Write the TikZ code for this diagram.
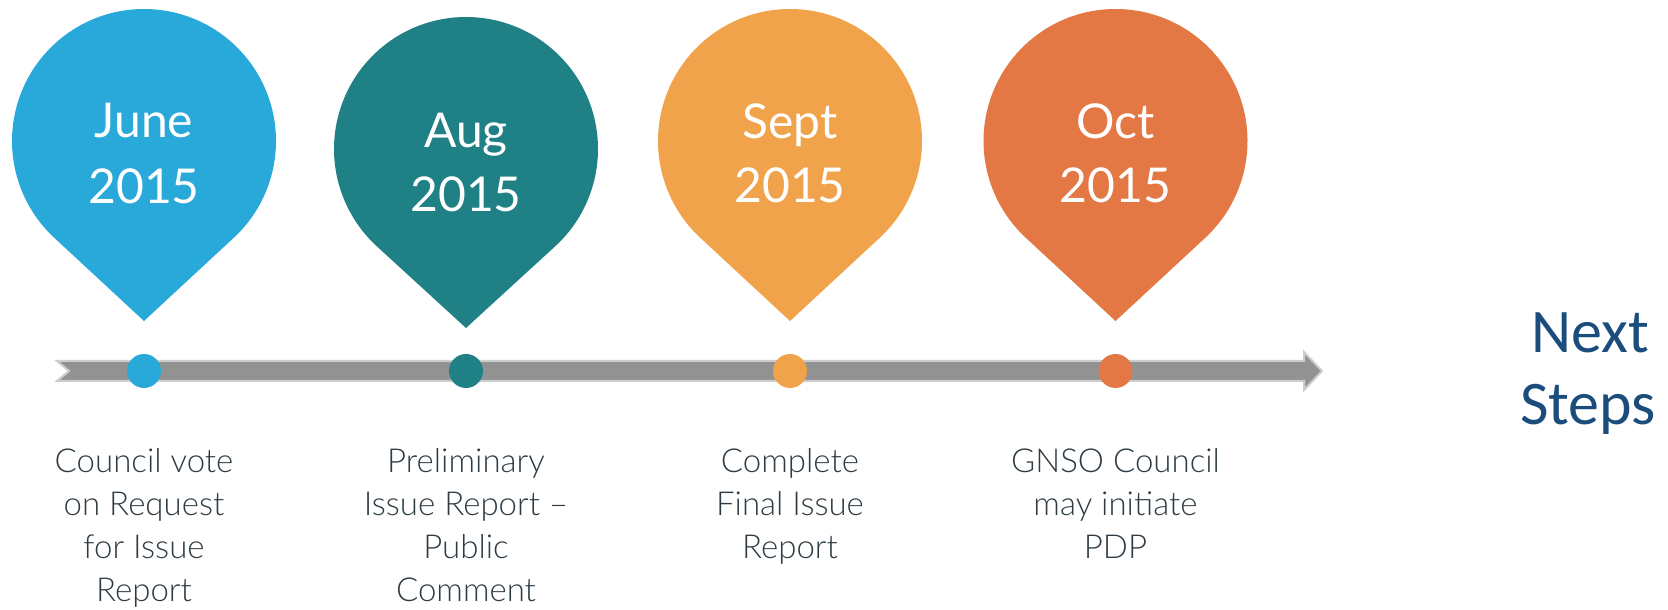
\documentclass[tikz,border=0pt]{standalone}
\usepackage{fontspec}
\setmainfont{Lato}
\newfontfamily\lightfont{Lato Light}
\newfontfamily\calfont{Carlito}
\usetikzlibrary{calc}
\definecolor{cjune}{HTML}{29A9DA}
\definecolor{caug}{HTML}{1F8085}
\definecolor{csept}{HTML}{F1A34B}
\definecolor{coct}{HTML}{E47845}
\definecolor{barfill}{HTML}{929292}
\definecolor{baredge}{HTML}{CDCDCD}
\definecolor{labelc}{HTML}{2E3B43}
\definecolor{nextc}{HTML}{1B4D7C}
\newcommand{\drawpin}[4]{% x, center y, tip y, color
  \fill[#4] (#1,#3) -- ($(#1,#2)+(-47.2:132)$) arc[start angle=-47.2, end angle=227.2, radius=132pt] -- cycle;}
\begin{document}
\begin{tikzpicture}[x=1pt,y=1pt,
  pintext/.style={text=white, font=\fontsize{48}{48}\selectfont, anchor=base, inner sep=0pt},
  lbl/.style={text=labelc, font=\lightfont\fontsize{33}{33}\selectfont, anchor=base, inner sep=0pt},
  dot/.style={circle, minimum size=34pt, inner sep=0pt},
  nextstyle/.style={text=nextc, font=\calfont\fontsize{62}{62}\selectfont, anchor=base, inner sep=0pt}]
\useasboundingbox (0,0) rectangle (1668,610);
% pins
\drawpin{144}{469}{289}{cjune}
\drawpin{466}{461}{282}{caug}
\drawpin{790}{469}{289}{csept}
\drawpin{1115.5}{469}{289}{coct}
% pin texts
\node[pintext] (june1) at (144,472) {June};
\node[pintext] (june2) at (144,406) {2015};
\node[pintext] (aug1) at (466,462) {Aug};
\node[pintext] (aug2) at (466,398) {2015};
\node[pintext] (sept1) at (790,471) {Sept};
\node[pintext] (sept2) at (790,407) {2015};
\node[pintext] (oct1) at (1115.5,471) {Oct};
\node[pintext] (oct2) at (1115.5,407) {2015};
% timeline bar
\fill[barfill, draw=baredge, line width=2pt] (57,249) -- (1304,249) -- (1304,258) -- (1322,239) -- (1304,220) -- (1304,229) -- (57,229) -- (69,239) -- cycle;
% dots
\node[dot, fill=cjune] (d1) at (144,239) {};
\node[dot, fill=caug] (d2) at (466,239) {};
\node[dot, fill=csept] (d3) at (790,239) {};
\node[dot, fill=coct] (d4) at (1115.5,239) {};
% labels
\node[lbl] (a1) at (144,137) {Council vote};
\node[lbl] (a2) at (144,94) {on Request};
\node[lbl] (a3) at (144,51) {for Issue};
\node[lbl] (a4) at (144,8) {Report};
\node[lbl] (b1) at (466,137) {Preliminary};
\node[lbl] (b2) at (466,94) {Issue Report –};
\node[lbl] (b3) at (466,51) {Public};
\node[lbl] (b4) at (466,8) {Comment};
\node[lbl] (c1) at (790,137) {Complete};
\node[lbl] (c2) at (790,94) {Final Issue};
\node[lbl] (c3) at (790,51) {Report};
\node[lbl] (e1) at (1115.5,137) {GNSO Council};
\node[lbl] (e2) at (1115.5,94) {may initiate};
\node[lbl] (e3) at (1115.5,51) {PDP};
% next steps
\node[nextstyle] (n1) at (1590,257) {Next};
\node[nextstyle] (n2) at (1588,185) {Steps};
\end{tikzpicture}
\end{document}
